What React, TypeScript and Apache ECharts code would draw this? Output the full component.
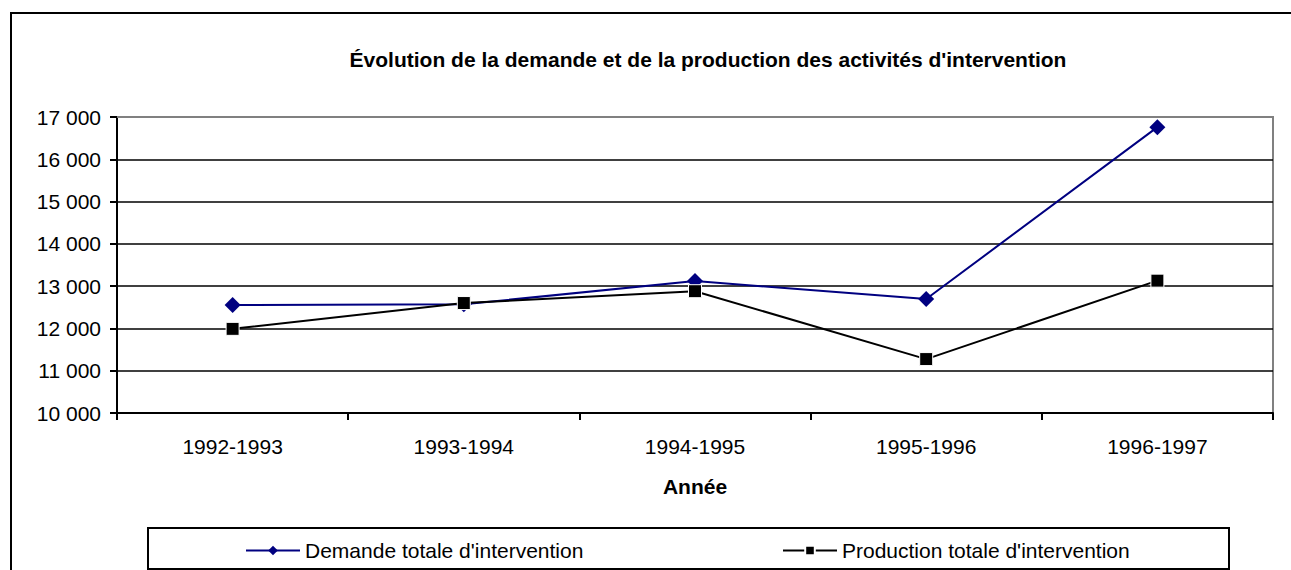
import React, { useEffect, useRef } from "react";
import * as echarts from "echarts";

const categories = ["1992-1993", "1993-1994", "1994-1995", "1995-1996", "1996-1997"];
const demande = [12555, 12570, 13120, 12695, 16760];
const production = [11990, 12600, 12880, 11275, 13130];
const seriesNames = ["Demande totale d'intervention", "Production totale d'intervention"];

const FONT = "'Liberation Sans', Arial, sans-serif";
const FS = 21;

export default function App() {
  const ref = useRef<HTMLDivElement>(null);
  useEffect(() => {
    document.body.style.margin = "0";
    const chart = echarts.init(ref.current!, null, { renderer: "svg" });
    chart.setOption({
      animation: false,
      backgroundColor: "#ffffff",
      textStyle: { fontFamily: FONT },
      title: {
        text: "Évolution de la demande et de la production des activités d'intervention",
        left: 703,
        textAlign: "center",
        top: 44,
        textStyle: { fontFamily: FONT, fontSize: FS, fontWeight: "bold", color: "#000" },
      },
      grid: {
        left: 117,
        top: 117,
        right: 18,
        bottom: 157,
        show: true,
        borderColor: "#808080",
        borderWidth: 2,
        backgroundColor: "#fff",
      },
      xAxis: {
        type: "category",
        data: categories,
        boundaryGap: true,
        name: "Année",
        nameLocation: "middle",
        nameGap: 63,
        nameTextStyle: { fontFamily: FONT, fontSize: FS, fontWeight: "bold", color: "#000" },
        axisLine: { show: true, lineStyle: { color: "#000", width: 2 } },
        axisTick: { show: true, length: 7, inside: false, lineStyle: { color: "#000", width: 2 }, alignWithLabel: false },
        axisLabel: { fontFamily: FONT, fontSize: FS, color: "#000", margin: 23 },
        splitLine: { show: false },
      },
      yAxis: {
        type: "value",
        min: 10000,
        max: 17000,
        interval: 1000,
        axisLine: { show: true, lineStyle: { color: "#000", width: 2 } },
        axisTick: { show: true, length: 7, lineStyle: { color: "#000", width: 2 } },
        axisLabel: {
          fontFamily: FONT,
          fontSize: FS,
          color: "#000",
          margin: 16,
          formatter: (v: number) => {
            const s = String(Math.round(v));
            return s.replace(/\B(?=(\d{3})+(?!\d))/g, " ");
          },
        },
        splitLine: { show: true, lineStyle: { color: "#000", width: 1.5 } },
      },
      legend: [
        {
          data: [seriesNames[0]],
          left: 245,
          top: 540,
          itemWidth: 54,
          itemHeight: 12,
          itemGap: 0,
          textStyle: { fontFamily: FONT, fontSize: FS, color: "#000" },
          padding: 0,
        },
        {
          data: [seriesNames[1]],
          left: 782,
          top: 540,
          itemWidth: 54,
          itemHeight: 12,
          itemGap: 0,
          textStyle: { fontFamily: FONT, fontSize: FS, color: "#000" },
          padding: 0,
        },
      ],
      graphic: [
        {
          type: "rect",
          shape: { x: 11, y: 13, width: 1320, height: 600 },
          style: { fill: "none", stroke: "#000", lineWidth: 2 },
          z: -1,
          silent: true,
        },
        {
          type: "rect",
          shape: { x: 148, y: 528, width: 1081, height: 41 },
          style: { fill: "none", stroke: "#000", lineWidth: 2 },
          silent: true,
        },
        {
          type: "line",
          shape: { x1: 117, y1: 117, x2: 1273, y2: 117 },
          style: { stroke: "#808080", lineWidth: 2 },
          z: 50,
          silent: true,
        },
      ],
      series: [
        {
          name: seriesNames[0],
          type: "line",
          data: demande,
          symbol: "diamond",
          symbolSize: 16,
          lineStyle: { color: "#000080", width: 2 },
          itemStyle: { color: "#000080" },
          z: 3,
        },
        {
          name: seriesNames[1],
          type: "line",
          data: production,
          symbol: "rect",
          symbolSize: 13,
          lineStyle: { color: "#000", width: 2 },
          itemStyle: { color: "#000", borderColor: "#fff", borderWidth: 1 },
          z: 4,
        },
      ],
    });
    return () => chart.dispose();
  }, []);
  return <div ref={ref} style={{ width: 1291, height: 570 }} />;
}
